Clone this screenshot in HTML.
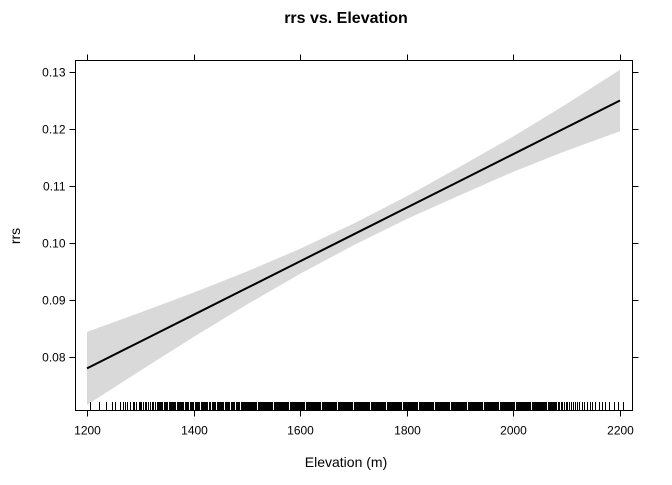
<!DOCTYPE html>
<html><head><meta charset="utf-8"><style>
body{margin:0;background:#fff}
svg text{font-family:"Liberation Sans",Arial,sans-serif;fill:#000}
</style></head><body>
<svg id="chart" width="672" height="480" viewBox="0 0 672 480">
<text x="346" y="23" font-size="16" font-weight="bold" text-anchor="middle">rrs vs. Elevation</text>
<text x="346" y="467" font-size="14" text-anchor="middle">Elevation (m)</text>
<text x="0" y="0" font-size="14" text-anchor="middle" transform="translate(20,236) rotate(-90)">rrs</text>
<g id="band"></g>
<g id="line"></g>
<g id="rug" shape-rendering="crispEdges"></g>
<g id="axes"></g>
<rect x="75.5" y="60.5" width="557" height="350" fill="none" stroke="#000" stroke-width="1"/>
</svg>
<script>
const xTicks=[1200,1400,1600,1800,2000,2200];
const yTicks=[0.08,0.09,0.10,0.11,0.12,0.13];
const yTickLabels=["0.08","0.09","0.10","0.11","0.12","0.13"];
const fitX=[1200,1300,1400,1500,1600,1700,1800,1900,2000,2100,2200];
const fitY=[0.0780,0.0827,0.0874,0.0921,0.0968,0.1015,0.1062,0.1109,0.1156,0.1203,0.1250];
const upperY=[0.0844,0.0878,0.0913,0.0950,0.0990,0.1034,0.1082,0.1134,0.1187,0.1244,0.1304];
const lowerY=[0.0716,0.0776,0.0835,0.0892,0.0946,0.0996,0.1042,0.1084,0.1125,0.1162,0.1196];
const elevations=[1205,1222,1236,1247,1253,1262,1268,1272,1275,1281,1286,1288,1292,1297,1300,1302,1305,1306,1309,1311,1314,1315,1318,1319,1322,1324,1327,1328,1331,1333,1335,1337,1339,1341,1344,1346,1348,1350,1353,1355,1357,1359,1361,1363,1366,1368,1370,1372,1375,1377,1379,1381,1384,1386,1388,1390,1393,1395,1397,1399,1402,1404,1406,1408,1411,1413,1415,1417,1420,1422,1424,1426,1429,1431,1434,1436,1438,1440,1443,1445,1447,1449,1452,1454,1456,1458,1461,1463,1465,1467,1470,1472,1474,1476,1479,1481,1484,1486,1488,1490,1492,1494,1496,1498,1500,1502,1504,1506,1508,1510,1512,1514,1516,1518,1520,1522,1524,1526,1528,1530,1532,1534,1536,1538,1540,1542,1544,1546,1548,1550,1552,1554,1556,1558,1560,1562,1564,1566,1568,1570,1572,1574,1576,1578,1580,1582,1584,1586,1588,1590,1592,1594,1596,1598,1600,1602,1604,1606,1608,1610,1612,1614,1616,1618,1620,1622,1624,1626,1628,1630,1632,1634,1636,1638,1640,1642,1644,1646,1648,1650,1652,1654,1656,1658,1660,1662,1664,1666,1668,1670,1672,1674,1676,1678,1680,1682,1684,1686,1688,1690,1692,1694,1696,1698,1700,1702,1704,1706,1708,1710,1712,1714,1716,1718,1720,1722,1724,1726,1728,1730,1732,1734,1736,1738,1740,1742,1744,1746,1748,1750,1752,1754,1756,1758,1760,1762,1764,1766,1768,1770,1772,1774,1776,1778,1780,1782,1784,1786,1788,1790,1792,1794,1796,1798,1800,1802,1804,1806,1808,1810,1812,1814,1816,1818,1820,1822,1824,1826,1828,1830,1832,1834,1836,1838,1840,1842,1844,1846,1848,1850,1852,1854,1856,1858,1860,1862,1864,1866,1868,1870,1872,1874,1876,1878,1880,1882,1884,1886,1888,1890,1892,1894,1896,1898,1900,1902,1904,1906,1908,1910,1912,1914,1916,1918,1920,1922,1924,1926,1928,1930,1932,1934,1936,1938,1940,1942,1944,1946,1948,1950,1952,1954,1956,1958,1960,1962,1964,1966,1968,1970,1972,1974,1976,1978,1980,1982,1984,1986,1988,1990,1992,1994,1996,1998,2000,2002,2004,2006,2008,2010,2012,2014,2016,2018,2020,2022,2024,2026,2028,2030,2032,2034,2036,2038,2040,2042,2044,2046,2048,2050,2052,2054,2056,2058,2060,2062,2064,2066,2068,2070,2072,2074,2076,2078,2080,2083,2086,2089,2092,2095,2098,2101,2104,2108,2112,2116,2120,2124,2128,2133,2138,2143,2148,2154,2160,2166,2172,2180,2188,2196,2205];
const NS="http://www.w3.org/2000/svg";
const L=75.5,R=632.5,T=60.5,B=410.5;
function sx(v){return 87+(v-1200)*(620-87)/1000;}
function sy(v){return 72+(0.13-v)*5700;}
function mk(tag,attrs,parent){const e=document.createElementNS(NS,tag);for(const k in attrs)e.setAttribute(k,attrs[k]);parent.appendChild(e);return e;}
const band=document.getElementById('band');
let d="M"+fitX.map((x,i)=>sx(x)+","+sy(upperY[i])).join("L");
for(let i=fitX.length-1;i>=0;i--)d+="L"+sx(fitX[i])+","+sy(lowerY[i]);
const bp=mk('path',{d:d+"Z",fill:"#d9d9d9",stroke:"none"},band);


const lp=mk('path',{d:"M"+fitX.map((x,i)=>sx(x)+","+sy(fitY[i])).join("L"),fill:"none",stroke:"#000","stroke-width":2},document.getElementById('line'));


const rug=document.getElementById('rug');
elevations.forEach(v=>{const x=Math.round(sx(v))+0.5;const r=mk('line',{x1:x,x2:x,y1:402,y2:B,stroke:"#000","stroke-width":1},rug);

});
const ax=document.getElementById('axes');
xTicks.forEach(v=>{const x=Math.round(sx(v))+0.5;
mk('line',{x1:x,x2:x,y1:B,y2:B+6,stroke:"#000"},ax);
mk('line',{x1:x,x2:x,y1:T,y2:T-6,stroke:"#000"},ax);
const t=mk('text',{x:x,y:B+24,"font-size":12,"text-anchor":"middle"},ax);t.textContent=String(v);

});
yTicks.forEach((v,i)=>{const y=Math.round(sy(v))+0.5;
mk('line',{x1:L,x2:L-6,y1:y,y2:y,stroke:"#000"},ax);
mk('line',{x1:R,x2:R+6,y1:y,y2:y,stroke:"#000"},ax);
const t=mk('text',{x:L-10,y:y+4,"font-size":12,"text-anchor":"end"},ax);t.textContent=yTickLabels[i];

});
</script>
</body></html>
